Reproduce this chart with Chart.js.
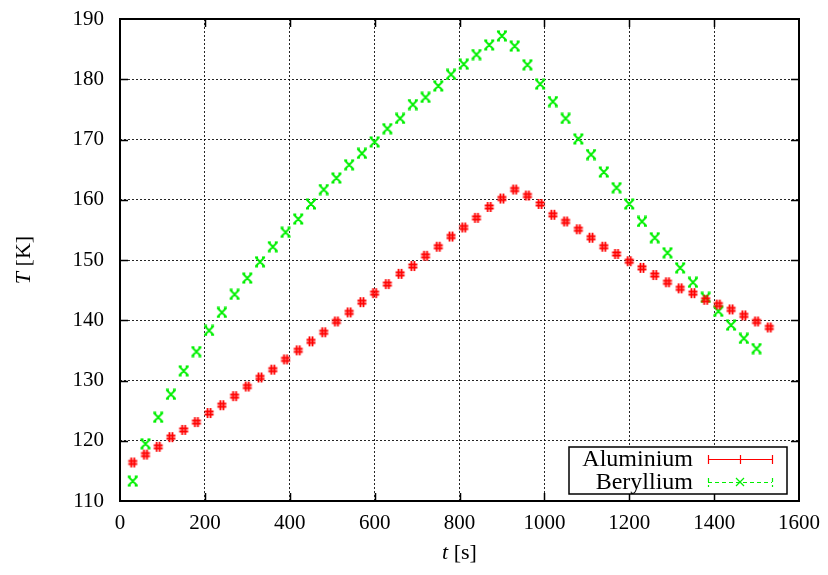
<!DOCTYPE html>
<html><head><meta charset="utf-8">
<script src="https://cdn.jsdelivr.net/npm/chart.js@4.4.1/dist/chart.umd.min.js"></script>
<style>html,body{margin:0;padding:0;background:#fff;}#wrap{width:828px;height:575px;position:relative;}</style>
</head><body><div id="wrap"><canvas id="c" width="828" height="575"></canvas></div>
<script>
// ---- data ----
const timeAluminium = [30,60,90,120,150,180,210,240,270,300,330,360,390,420,450,480,510,540,570,600,630,660,690,720,750,780,810,840,870,900,930,960,990,1020,1050,1080,1110,1140,1170,1200,1230,1260,1290,1320,1350,1380,1410,1440,1470,1500,1530];
const tempAluminium = [116.4,117.7,119.0,120.6,121.8,123.1,124.6,125.9,127.4,129.0,130.5,131.8,133.5,135.0,136.5,138.0,139.8,141.3,143.0,144.5,146.0,147.7,149.0,150.7,152.2,153.9,155.4,157.0,158.8,160.2,161.7,160.7,159.3,157.5,156.4,155.1,153.7,152.2,151.0,149.8,148.7,147.5,146.3,145.3,144.5,143.4,142.6,141.8,140.8,139.8,138.8];
const timeBeryllium = [30,60,90,120,150,180,210,240,270,300,330,360,390,420,450,480,510,540,570,600,630,660,690,720,750,780,810,840,870,900,930,960,990,1020,1050,1080,1110,1140,1170,1200,1230,1260,1290,1320,1350,1380,1410,1440,1470,1500];
const tempBeryllium = [113.3,119.5,123.9,127.7,131.6,134.8,138.3,141.3,144.3,147.0,149.7,152.2,154.6,156.8,159.3,161.7,163.6,165.8,167.7,169.6,171.8,173.5,175.8,177.0,178.9,180.8,182.5,184.1,185.7,187.2,185.5,182.4,179.2,176.3,173.5,170.1,167.5,164.6,162.0,159.3,156.4,153.7,151.2,148.7,146.3,143.8,141.5,139.2,137.0,135.3];
const seriesNames = ['Aluminium', 'Beryllium'];
const xTickValues = [0,200,400,600,800,1000,1200,1400,1600];
const yTickValues = [110,120,130,140,150,160,170,180,190];
const xTitleParts = [['t', true], [' [s]', false]];
const yTitleParts = [['T', true], [' [K]', false]];

// ---- styling ----
const RED = '#ff0000', GREEN = '#00f000';
const FONT = "'Liberation Serif', 'Times New Roman', serif";

function makeMarker(kind, color) {
  const c = document.createElement('canvas');
  c.width = 12; c.height = 12;
  const g = c.getContext('2d');
  g.strokeStyle = color; g.lineWidth = 1.8; g.lineCap = 'butt';
  g.beginPath();
  if (kind === 'hash') {
    g.moveTo(4.5, 1); g.lineTo(4.5, 11);
    g.moveTo(7.5, 1); g.lineTo(7.5, 11);
    g.moveTo(1.5, 4.5); g.lineTo(10.5, 4.5);
    g.moveTo(1.5, 7.5); g.lineTo(10.5, 7.5);
  } else {
    g.moveTo(2, 2); g.lineTo(10, 10);
    g.moveTo(10, 2); g.lineTo(2, 10);
    g.moveTo(1, 1.5); g.lineTo(4, 1.5);
    g.moveTo(8, 1.5); g.lineTo(11, 1.5);
    g.moveTo(1, 10.5); g.lineTo(4, 10.5);
    g.moveTo(8, 10.5); g.lineTo(11, 10.5);
    g.moveTo(4.5, 6); g.lineTo(7.5, 6);
  }
  g.stroke();
  return c;
}
const markerAl = makeMarker('hash', RED);
const markerBe = makeMarker('x', GREEN);

function toPoints(xs, ys) { return xs.map((x, i) => ({x: x, y: ys[i]})); }

function drawParts(ctx, parts, size) {
  let total = 0;
  const widths = parts.map(([t, it]) => {
    ctx.font = (it ? 'italic ' : '') + size + 'px ' + FONT;
    const w = ctx.measureText(t).width; total += w; return w;
  });
  let x = -total / 2;
  parts.forEach(([t, it], i) => {
    ctx.font = (it ? 'italic ' : '') + size + 'px ' + FONT;
    ctx.fillText(t, x, 0); x += widths[i];
  });
}

const framePlugin = {
  id: 'gnuframe',
  afterDatasetsDraw(chart) {
    const {ctx, chartArea: a, scales: {x, y}} = chart;
    ctx.save();
    ctx.strokeStyle = '#000';
    ctx.lineWidth = 1.5;
    ctx.beginPath();
    x.ticks.forEach(t => {
      const px = Math.round(x.getPixelForValue(t.value)) + 0.5;
      if (px <= a.left + 1 || px >= a.right - 1) return;
      ctx.moveTo(px, a.bottom); ctx.lineTo(px, a.bottom - 8);
      ctx.moveTo(px, a.top); ctx.lineTo(px, a.top + 8);
    });
    y.ticks.forEach(t => {
      const py = Math.round(y.getPixelForValue(t.value)) + 0.5;
      if (py <= a.top + 1 || py >= a.bottom - 1) return;
      ctx.moveTo(a.left, py); ctx.lineTo(a.left + 8, py);
      ctx.moveTo(a.right, py); ctx.lineTo(a.right - 8, py);
    });
    ctx.stroke();
    ctx.lineWidth = 2;
    ctx.strokeRect(a.left, a.top, a.right - a.left, a.bottom - a.top);
    ctx.restore();
  },
  afterDraw(chart) {
    const {ctx, chartArea: a} = chart;
    ctx.save();
    ctx.fillStyle = '#000';
    ctx.textBaseline = 'middle';
    ctx.textAlign = 'left';
    ctx.save();
    ctx.translate((a.left + a.right) / 2, 553);
    drawParts(ctx, xTitleParts, 22);
    ctx.restore();
    ctx.save();
    ctx.translate(24, (a.top + a.bottom) / 2);
    ctx.rotate(-Math.PI / 2);
    drawParts(ctx, yTitleParts, 22);
    ctx.restore();

    // legend box
    const bx = 569, by = 447, bw = 218, bh = 47;
    ctx.fillStyle = '#fff';
    ctx.fillRect(bx, by, bw, bh);
    ctx.strokeStyle = '#000';
    ctx.lineWidth = 1.5;
    ctx.strokeRect(bx, by, bw, bh);
    const rows = [by + 12, by + 35];
    chart.data.datasets.forEach((ds, i) => {
      const ry = rows[i];
      ctx.fillStyle = '#000';
      ctx.font = '24px ' + FONT;
      ctx.textAlign = 'right';
      ctx.textBaseline = 'middle';
      ctx.fillText(ds.label, 693, ry + 1);
      const x0 = 708, x1 = 772, xm = 740;
      ctx.strokeStyle = ds.borderColor;
      ctx.lineWidth = 1.2;
      ctx.setLineDash(i === 0 ? [] : [4, 3]);
      ctx.beginPath();
      ctx.moveTo(x0, ry + 0.5); ctx.lineTo(x1, ry + 0.5);
      ctx.moveTo(x0 + 0.5, ry - 4); ctx.lineTo(x0 + 0.5, ry + 5);
      ctx.moveTo(x1 + 0.5, ry - 4); ctx.lineTo(x1 + 0.5, ry + 5);
      ctx.stroke();
      ctx.setLineDash([]);
      ctx.beginPath();
      if (i === 0) {
        ctx.moveTo(xm + 0.5, ry - 4); ctx.lineTo(xm + 0.5, ry + 5);
      } else {
        ctx.moveTo(xm - 4, ry - 4); ctx.lineTo(xm + 4, ry + 4);
        ctx.moveTo(xm + 4, ry - 4); ctx.lineTo(xm - 4, ry + 4);
      }
      ctx.stroke();
    });
    ctx.restore();
  }
};

new Chart(document.getElementById('c'), {
  type: 'scatter',
  data: {
    datasets: [
      { label: seriesNames[0], data: toPoints(timeAluminium, tempAluminium), borderColor: RED, backgroundColor: RED,
        pointStyle: markerAl, pointRadius: 6, showLine: false },
      { label: seriesNames[1], data: toPoints(timeBeryllium, tempBeryllium), borderColor: GREEN, backgroundColor: GREEN,
        pointStyle: markerBe, pointRadius: 6, showLine: false }
    ]
  },
  options: {
    responsive: false,
    animation: false,
    devicePixelRatio: 1,
    layout: { padding: { left: 0, right: 29, top: 19, bottom: 0 } },
    plugins: { legend: { display: false }, title: { display: false }, tooltip: { enabled: false } },
    scales: {
      x: {
        type: 'linear', min: 0, max: 1600,
        afterBuildTicks: s => { s.ticks = xTickValues.map(v => ({value: v})); },
        afterFit: s => { s.height = 74; s.paddingLeft = 0; s.paddingRight = 0; s.paddingTop = 0; s.paddingBottom = 0; },
        ticks: { color: '#000', font: { family: FONT, size: 21 }, padding: 10, maxRotation: 0, callback: v => String(v) },
        grid: { color: 'rgba(0,0,0,0.85)', lineWidth: 1, drawTicks: false },
        border: { display: false, dash: [2, 2] }
      },
      y: {
        type: 'linear', min: 110, max: 190,
        afterBuildTicks: s => { s.ticks = yTickValues.map(v => ({value: v})); },
        afterFit: s => { s.width = 120; s.paddingLeft = 0; s.paddingRight = 0; s.paddingTop = 0; s.paddingBottom = 0; },
        ticks: { color: '#000', font: { family: FONT, size: 21 }, padding: 16, callback: v => String(v) },
        grid: { color: 'rgba(0,0,0,0.85)', lineWidth: 1, drawTicks: false },
        border: { display: false, dash: [2, 2] }
      }
    }
  },
  plugins: [framePlugin]
});
</script></body></html>
